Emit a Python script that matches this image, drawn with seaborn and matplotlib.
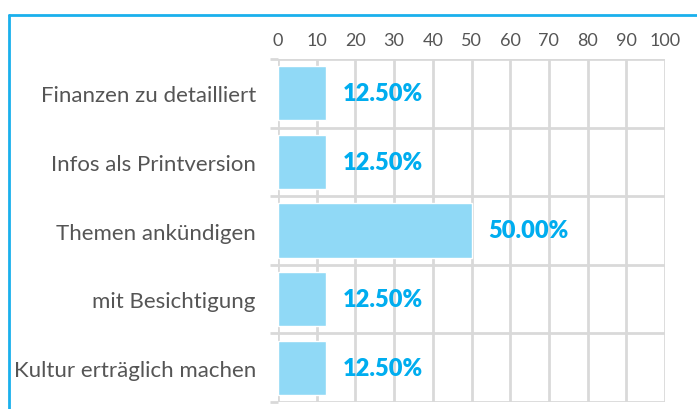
import numpy as np
import pandas as pd
import matplotlib
matplotlib.use("Agg")
import matplotlib.pyplot as plt
from matplotlib.lines import Line2D
import seaborn as sns

categories = ["Finanzen zu detailliert", "Infos als Printversion", "Themen ankündigen",
              "mit Besichtigung", "Kultur erträglich machen"]
values = [12.5, 12.5, 50.0, 12.5, 12.5]
x_ticks = [0, 10, 20, 30, 40, 50, 60, 70, 80, 90, 100]

df = pd.DataFrame({"Kategorie": categories, "Wert": values})

sns.set_style("white")
plt.rcParams["font.family"] = ["Lato", "DejaVu Sans"]

bar_color = "#90d9f6"
label_color = "#00adef"
grid_color = "#d9d9d9"
text_color = "#555555"

fig = plt.figure(figsize=(6.97, 4.10), dpi=100)
ax = fig.add_axes([278 / 697, 1 - 403 / 410, (665 - 278) / 697, (403 - 60) / 410])

sns.barplot(data=df, x="Wert", y="Kategorie", color=bar_color, width=0.79,
            saturation=1, ax=ax, zorder=3)

ax.set_xlim(0, 100)
ax.set_ylim(len(categories) - 0.5, -0.5)
ax.set_xticks(x_ticks)
ax.set_xlabel("")
ax.set_ylabel("")
ax.xaxis.tick_top()
ax.tick_params(axis="x", length=0, pad=8, labelsize=13, labelcolor=text_color)
ax.tick_params(axis="y", which="major", length=0, pad=16, labelsize=16, labelcolor=text_color)

# horizontal lines between categories
ax.set_yticks(np.arange(-0.5, len(categories), 1), minor=True)
ax.tick_params(axis="y", which="minor", length=6, width=2, color=grid_color, left=True)
ax.grid(axis="y", which="minor", color=grid_color, linewidth=2, zorder=0)
ax.grid(axis="x", which="major", color=grid_color, linewidth=2, zorder=0)
ax.grid(axis="y", which="major", visible=False)
for s in ax.spines.values():
    s.set_visible(False)

for i, v in enumerate(values):
    ax.annotate(f"{v:.2f}%", xy=(v, i), xytext=(12, 0), textcoords="offset points",
                va="center", ha="left", fontsize=17, fontweight="heavy", color=label_color)

# blue frame top and left
fig.add_artist(Line2D([9 / 697, 1], [1 - 16 / 410, 1 - 16 / 410], color="#1ab0ec", linewidth=2))
fig.add_artist(Line2D([9 / 697, 9 / 697], [0, 1 - 16 / 410], color="#1ab0ec", linewidth=2))

fig.savefig("out.png", dpi=100)
